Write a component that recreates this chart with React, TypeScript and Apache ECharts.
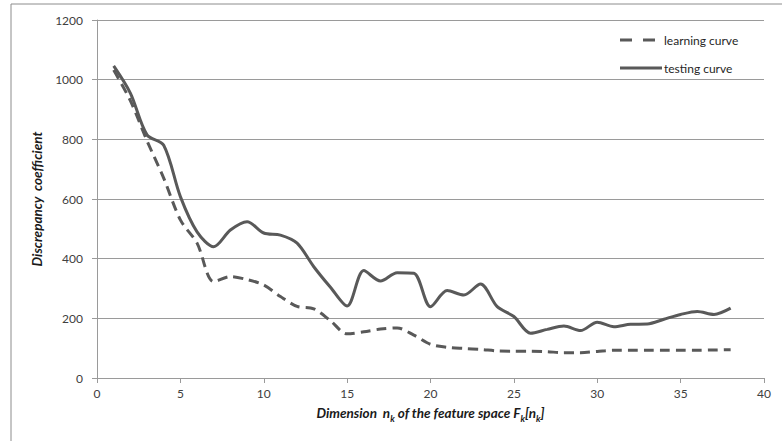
import React, { useEffect, useRef } from "react";
import * as echarts from "echarts";

const dims = [1,2,3,4,5,6,7,8,9,10,11,12,13,14,15,16,17,18,19,20,21,22,23,24,25,26,27,28,29,30,31,32,33,34,35,36,37,38];
const learning = [1032,930,795,670,530,452,323,340,330,312,273,240,232,192,148,155,164,168,144,113,103,99,96,91,90,90,88,85,85,89,93,93,93,93,93,93,94,95];
const testing = [1046,955,815,780,608,490,440,496,524,486,479,452,373,304,241,360,325,353,351,239,293,278,315,239,206,150,163,174,159,187,172,180,181,197,213,223,213,234];
const xTicks = { min: 0, max: 40, interval: 5 };
const yTicks = { min: 0, max: 1200, interval: 200 };
const seriesNames = ["learning curve", "testing curve"];

export default function App() {
  const ref = useRef<HTMLDivElement>(null);
  useEffect(() => {
    if (!ref.current) return;
    const chart = echarts.init(ref.current, null, { renderer: "svg" });
    const font = "Lato, 'Open Sans', sans-serif";
    const lineColor = "#595959";
    chart.setOption({
      animation: false,
      backgroundColor: "#ffffff",
      grid: { left: 97, right: 18, top: 20, bottom: 63, outerBoundsMode: "none", containLabel: false },
      xAxis: {
        type: "value",
        min: xTicks.min,
        max: xTicks.max,
        interval: xTicks.interval,
        axisLine: { show: true, lineStyle: { color: "#9a9a9a", width: 1 } },
        axisTick: { show: true, inside: false, length: 5, lineStyle: { color: "#9a9a9a" } },
        splitLine: { show: false },
        axisLabel: { fontFamily: font, fontSize: 12, color: "#404040", margin: 9, formatter: (v: number) => String(v) },
        name: "{b|Dimension  n}{s|k}{b| of the feature space F}{s|k}{b|[n}{s|k}{b|]}",
        nameLocation: "middle",
        nameGap: 26,
        nameTextStyle: {
          rich: {
            b: { fontFamily: font, fontSize: 13.5, fontWeight: "bold", fontStyle: "italic", color: "#1a1a1a", lineHeight: 16, verticalAlign: "bottom" },
            s: { fontFamily: font, fontSize: 9, fontWeight: "bold", fontStyle: "italic", color: "#1a1a1a", lineHeight: 16, verticalAlign: "bottom", padding: [0, 0, -3, 0] },
          },
        },
      },
      yAxis: {
        type: "value",
        min: yTicks.min,
        max: yTicks.max,
        interval: yTicks.interval,
        axisLine: { show: true, lineStyle: { color: "#9a9a9a", width: 1 } },
        axisTick: { show: true, inside: false, length: 5, lineStyle: { color: "#9a9a9a" } },
        splitLine: { show: true, lineStyle: { color: "#9a9a9a", width: 1 } },
        axisLabel: { fontFamily: font, fontSize: 12, color: "#404040", margin: 14, formatter: (v: number) => String(v) },
        name: "Discrepancy  coefficient",
        nameLocation: "middle",
        nameGap: 48,
        nameTextStyle: { fontFamily: font, fontSize: 13.5, fontWeight: "bold", fontStyle: "italic", color: "#1a1a1a" },
      },
      graphic: [
        { type: "rect", shape: { x: 11, y: 4, width: 900, height: 600 }, style: { fill: "none", stroke: "#8c8c8c", lineWidth: 1 }, silent: true, z: -10 },
        { type: "line", shape: { x1: 620, y1: 40, x2: 659, y2: 40 }, style: { stroke: lineColor, lineWidth: 3, lineDash: [12, 11] }, z: 10 },
        { type: "text", x: 664, y: 40, style: { text: seriesNames[0], fontFamily: font, fontSize: 12, fill: "#262626", verticalAlign: "middle" }, z: 10 },
        { type: "line", shape: { x1: 620, y1: 68, x2: 662, y2: 68 }, style: { stroke: lineColor, lineWidth: 3 }, z: 10 },
        { type: "text", x: 664, y: 68, style: { text: seriesNames[1], fontFamily: font, fontSize: 12, fill: "#262626", verticalAlign: "middle" }, z: 10 },
      ],
      series: [
        {
          name: seriesNames[0],
          type: "line",
          smooth: 0.3,
          symbol: "none",
          data: dims.map((d, i) => [d, learning[i]]),
          lineStyle: { color: lineColor, width: 3, type: [10, 6] },
          itemStyle: { color: lineColor },
        },
        {
          name: seriesNames[1],
          type: "line",
          smooth: 0.3,
          symbol: "none",
          data: dims.map((d, i) => [d, testing[i]]),
          lineStyle: { color: lineColor, width: 3 },
          itemStyle: { color: lineColor },
        },
      ],
    });
    return () => chart.dispose();
  }, []);
  return <div ref={ref} style={{ position: "absolute", left: 0, top: 0, width: 782, height: 441 }} />;
}
